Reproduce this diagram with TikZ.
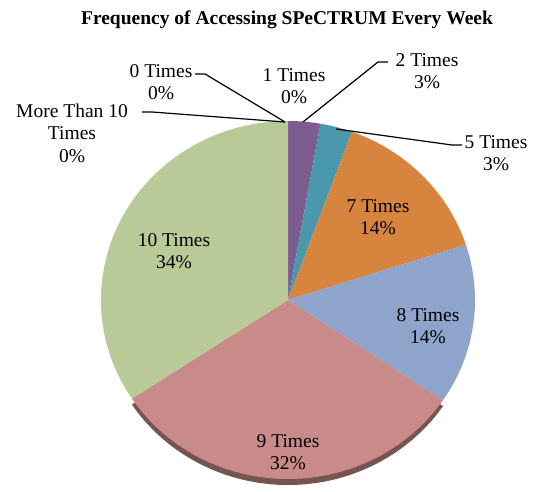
\documentclass[tikz,border=0pt]{standalone}
\usepackage{fontspec}
\setmainfont{Liberation Serif}
\usetikzlibrary{calc}
\definecolor{cpurple}{RGB}{125,93,145}
\definecolor{cteal}{RGB}{74,152,172}
\definecolor{corange}{RGB}{215,132,62}
\definecolor{cblue}{RGB}{142,164,202}
\definecolor{cpink}{RGB}{200,139,137}
\definecolor{cgreen}{RGB}{185,202,152}
\definecolor{crim}{RGB}{118,84,80}
\begin{document}
\begin{tikzpicture}[x=1pt,y=1pt,
  lbl/.style={align=center,inner sep=0pt,font=\fontsize{19.5}{22.5}\selectfont},
  ttl/.style={inner sep=0pt,font=\fontsize{19.5}{22}\selectfont\bfseries},
  leader/.style={draw=black,line width=1.2pt}]
\useasboundingbox (0,0) rectangle (534,491);
\coordinate (c) at (288,191);
\coordinate (cs) at (288,185);
\newcommand{\slice}[4]{%
  \fill[#1] (#4) -- ($(#4)+(#2:187pt and 179pt)$) arc[start angle=#2, end angle=#3, x radius=187pt, y radius=179pt] -- cycle;}
% rim shadow
\slice{crim}{-34}{-146.6}{cs}
% slices
\slice{cpurple}{90}{80}{c}
\slice{cteal}{80}{70}{c}
\slice{corange}{70}{18}{c}
\slice{cblue}{18}{-34}{c}
\slice{cpink}{-34}{-146.6}{c}
\slice{cgreen}{-146.6}{-270}{c}
% title
\node[ttl] (title) at (287,471) {Frequency of Accessing SPeCTRUM Every Week};
% labels
\node[lbl] (t7) at (378,274) {7 Times\\14\%};
\node[lbl] (t8) at (428,165) {8 Times\\14\%};
\node[lbl] (t9) at (288,39) {9 Times\\32\%};
\node[lbl] (t10) at (174,240) {10 Times\\34\%};
\node[lbl] (t0) at (161,409) {0 Times\\0\%};
\node[lbl] (t1) at (294,405) {1 Times\\0\%};
\node[lbl] (t2) at (427,420) {2 Times\\3\%};
\node[lbl] (t5) at (496,338) {5 Times\\3\%};
\node[lbl] (tm) at (72,358) {More Than 10\\Times\\0\%};
% leader points
\coordinate (p0a) at (195,417);
\coordinate (p0b) at (205,417);
\coordinate (pma) at (142,379);
\coordinate (pmb) at (152,379);
\coordinate (ptop) at (285,369);
\coordinate (p2s) at (303,369);
\coordinate (p2b) at (378,429);
\coordinate (p2a) at (388,429);
\coordinate (p5s) at (336,362);
\coordinate (p5b) at (452,346);
\coordinate (p5a) at (462,346);
\draw[leader] (p0a) -- (p0b) -- (ptop);
\draw[leader] (pma) -- (pmb) -- (ptop);
\draw[leader] (p2s) -- (p2b) -- (p2a);
\draw[leader] (p5s) -- (p5b) -- (p5a);
\end{tikzpicture}
\end{document}
